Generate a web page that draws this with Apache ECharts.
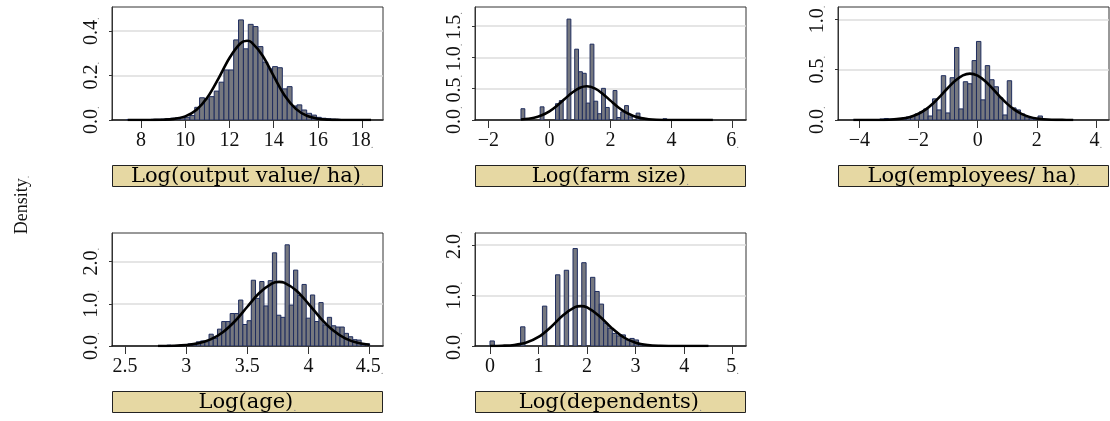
<!DOCTYPE html>
<html><head><meta charset="utf-8">
<script src="https://cdn.jsdelivr.net/npm/echarts@6/dist/echarts.min.js"></script>
<style>html,body{margin:0;padding:0;background:#fff}#c{width:1110px;height:421px}</style>
</head><body><div id="c"></div>
<script>
// ---------- data ----------
const titles = ['Log(output value/ ha)', 'Log(farm size)', 'Log(employees/ ha)', 'Log(age)', 'Log(dependents)'];
const yTitle = 'Density';
const xTicks1 = [8, 10, 12, 14, 16, 18];
const xTicks2 = [-2, 0, 2, 4, 6];
const xTicks3 = [-4, -2, 0, 2, 4];
const xTicks4 = [2.5, 3, 3.5, 4, 4.5];
const xTicks5 = [0, 1, 2, 3, 4, 5];
const yTicks1 = [0, 0.2, 0.4];
const yTicks2 = [0, 0.5, 1.0, 1.5];
const yTicks3 = [0, 0.5, 1.0];
const yTicks4 = [0, 1.0, 2.0];
const yTicks5 = [0, 1.0, 2.0];
// histogram bins: first bin start and bin width
const binStart = [7.35, -0.93, -4.2, 2.7726, 0];
const binWidth = [0.22, 0.1256, 0.1486, 0.03454, 0.09];
const heights1 = [0.002,0.002,0.002,0.002,0.002,0.003,0.003,0.004,0.006,0.008,
  0.01,0.012,0.012,0.02,0.057,0.10,0.095,0.105,0.13,0.17,
  0.225,0.225,0.36,0.45,0.32,0.43,0.42,0.33,0.26,0.23,
  0.24,0.235,0.14,0.15,0.063,0.068,0.045,0.03,0.022,0.012,
  0.008,0.006,0.004,0.003,0.002,0.002,0.002,0.001,0.001,0.002];
const heights2 = [0.18,0,0,0,0,0.21,0,0,0,0.26,
  0.31,0,1.61,0,1.13,0.77,0.745,0.27,1.21,0.30,
  0.10,0.505,0.20,0,0.47,0.04,0.13,0.23,0.05,0,
  0.11,0,0.005,0,0,0,0,0.02,0,0,
  0.005,0,0,0,0.005,0,0,0,0,0.005];
const heights3 = [0.003,0.003,0.003,0.005,0.005,0.005,0.01,0.015,0.01,0.01,
  0.01,0.02,0.03,0.04,0.06,0.08,0.11,0.04,0.21,0.10,
  0.44,0.07,0.42,0.72,0.11,0.38,0.36,0.59,0.78,0.20,
  0.54,0.40,0.33,0.22,0.05,0.39,0.12,0.10,0.06,0.03,
  0.02,0.01,0.04,0.005,0.003,0.003,0.002,0.002,0.002,0.002];
const heights4 = [0.01,0,0.02,0,0.01,0.02,0.03,0.05,0.05,0.10,
  0.12,0.10,0.28,0.18,0.40,0.58,0.58,0.77,0.77,1.09,
  0.51,0.60,1.56,1.13,1.53,0.95,1.55,2.21,0.73,0.68,
  2.40,0.97,1.80,1.20,1.46,0.66,1.21,0.58,1.03,0.50,
  0.68,0.48,0.45,0.45,0.30,0.22,0.15,0.14,0.06,0.05];
const heights5 = [0.10,0,0,0,0,0,0,0.38,0,0,
  0,0,0.79,0,0,1.41,0,1.50,0,1.93,
  0,1.65,0,1.36,1.08,0.83,0.45,0.35,0.25,0.20,
  0.22,0.12,0.15,0.12,0.03,0.02,0.01,0.01,0.005,0.005,
  0.003,0.003,0,0.003,0,0.003,0,0,0.003,0.003];
// normal density overlays
const curveX1 = [7.4,8,8.5,9,9.5,10,10.5,11,11.5,12,12.5,12.8,13,13.5,14,14.5,15,15.5,16,16.5,17,17.5,18,18.4];
const curveY1 = [0,0,0.0003,0.0012,0.0049,0.0164,0.045,0.101,0.186,0.279,0.345,0.356,0.349,0.289,0.197,0.109,0.050,0.019,0.0057,0.0014,0.0003,0,0,0];
const curveX2 = [-0.93,-0.5,-0.25,0,0.25,0.5,0.75,1,1.22,1.5,1.75,2,2.25,2.5,2.75,3,3.25,3.5,4,4.5,5,5.35];
const curveY2 = [0.008,0.036,0.075,0.138,0.228,0.335,0.440,0.515,0.538,0.501,0.416,0.309,0.204,0.121,0.064,0.030,0.0125,0.0047,0.0005,0,0,0];
const curveX3 = [-4.2,-3.5,-3,-2.5,-2.25,-2,-1.75,-1.5,-1.25,-1,-0.75,-0.5,-0.26,0,0.25,0.5,0.75,1,1.25,1.5,1.75,2,2.5,3,3.23];
const curveY3 = [0,0.0004,0.003,0.016,0.033,0.062,0.105,0.166,0.240,0.32,0.392,0.443,0.46,0.44,0.387,0.313,0.233,0.16,0.101,0.059,0.031,0.015,0.003,0.0004,0.0001];
const curveX4 = [2.77,2.9,3.0,3.1,3.2,3.3,3.4,3.5,3.6,3.7,3.76,3.8,3.9,4.0,4.1,4.2,4.3,4.4,4.5];
const curveY4 = [0.001,0.007,0.023,0.064,0.156,0.327,0.593,0.931,1.262,1.481,1.52,1.502,1.318,1.001,0.657,0.373,0.183,0.078,0.029];
const curveX5 = [0,0.25,0.5,0.75,1,1.25,1.5,1.75,1.87,2,2.25,2.5,2.75,3,3.25,3.5,3.75,4,4.5];
const curveY5 = [0.001,0.005,0.02,0.068,0.179,0.372,0.604,0.768,0.79,0.764,0.595,0.363,0.173,0.065,0.019,0.004,0.001,0,0];

// ---------- layout ----------
const xTicks = [xTicks1, xTicks2, xTicks3, xTicks4, xTicks5];
const yTicks = [yTicks1, yTicks2, yTicks3, yTicks4, yTicks5];
const heights = [heights1, heights2, heights3, heights4, heights5];
const curveX = [curveX1, curveX2, curveX3, curveX4, curveX5];
const curveY = [curveY1, curveY2, curveY3, curveY4, curveY5];
const layout = [
  {left: 112, top: 7, xMin: 6.69, xMax: 18.94, yMax: 0.508},
  {left: 475, top: 7, xMin: -2.435, xMax: 6.435, yMax: 1.803},
  {left: 838, top: 7, xMin: -4.72, xMax: 4.44, yMax: 1.122},
  {left: 112, top: 233, xMin: 2.394, xMax: 4.609, yMax: 2.68},
  {left: 475, top: 233, xMin: -0.309, xMax: 5.274, yMax: 2.238}
];
const W = 271, H = 113;
const TICKFONT = 'Liberation Serif';
const TITLEFONT = 'DejaVu Serif';

const rich = {
  n: {fontFamily: TICKFONT, fontSize: 20, color: '#111'},
  d: {fontFamily: TICKFONT, fontSize: 11, color: '#888', verticalAlign: 'bottom'}
};

function fmtNum(v) {
  const s = String(Math.abs(v));
  return (v < 0 ? '\u2212' : '') + s;
}

function renderBar(params, api) {
  const a = api.coord([api.value(0), 0]);
  const b = api.coord([api.value(1), api.value(2)]);
  return {
    type: 'rect',
    shape: {x: a[0], y: b[1], width: b[0] - a[0], height: a[1] - b[1]},
    style: {fill: '#76787f', stroke: '#1f2d5e', lineWidth: 1}
  };
}

const grid = [], xAxis = [], yAxis = [], series = [], graphic = [];
layout.forEach((L, k) => {
  grid.push({left: L.left, top: L.top, width: W, height: H, show: true,
    borderColor: '#333', borderWidth: 1, backgroundColor: '#fff', containLabel: false});
  const xt = xTicks[k];
  const lastX = xt[xt.length - 1];
  xAxis.push({
    type: 'value', gridIndex: k, min: L.xMin, max: L.xMax, position: 'bottom',
    axisLine: {show: true, onZero: false, lineStyle: {color: '#111', width: 1.5}},
    axisTick: {show: true, length: 8, customValues: xt, lineStyle: {color: '#333', width: 1}},
    axisLabel: {show: true, customValues: xt, margin: 11, fontFamily: TICKFONT, fontSize: 20, color: '#111',
      rich: rich,
      formatter: v => (Math.abs(v - lastX) < 1e-9) ? '{n|' + fmtNum(v) + '}{d|.}' : '{n|' + fmtNum(v) + '}'},
    splitLine: {show: false}
  });
  const yt = yTicks[k];
  yAxis.push({
    type: 'value', gridIndex: k, min: 0, max: L.yMax, interval: yt[1] - yt[0], position: 'left',
    axisLine: {show: true, onZero: false, lineStyle: {color: '#333', width: 1}},
    axisTick: {show: true, length: 3, customValues: yt, lineStyle: {color: '#333'}},
    axisLabel: {show: true, customValues: yt, rotate: 90, margin: 10, fontFamily: TICKFONT, fontSize: 20, color: '#111',
      rich: rich,
      formatter: v => '{n|' + v.toFixed(1) + '}{d|.}'},
    splitLine: {show: true, lineStyle: {color: '#dcdcdc', width: 1.5}}
  });
  const bars = heights[k].map((h, i) => [binStart[k] + i * binWidth[k], binStart[k] + (i + 1) * binWidth[k], h])
    .filter(d => d[2] > 0);
  series.push({type: 'custom', xAxisIndex: k, yAxisIndex: k, data: bars, renderItem: renderBar,
    encode: {x: [0, 1], y: 2}, clip: true, z: 2, silent: true});
  series.push({type: 'line', xAxisIndex: k, yAxisIndex: k,
    data: curveX[k].map((x, i) => [x, curveY[k][i]]),
    showSymbol: false, smooth: 0.35, lineStyle: {color: '#000', width: 2.6}, z: 3, silent: true});
  const boxTop = L.top + H + 45;
  graphic.push({type: 'rect', x: L.left + 0.5, y: boxTop + 0.5, shape: {x: 0, y: 0, width: W - 1, height: 21},
    style: {fill: '#e6d8a3', stroke: '#222', lineWidth: 1}, z: 10});
  graphic.push({type: 'text', x: L.left + W / 2, y: boxTop + 11.5, z: 11,
    style: {text: '{t|' + titles[k] + '}{d|.}', align: 'center', verticalAlign: 'middle',
      textAlign: 'center', textVerticalAlign: 'middle',
      rich: {t: {fontFamily: TITLEFONT, fontSize: 21, fill: '#000'}, d: {fontFamily: TITLEFONT, fontSize: 10, fill: '#888', verticalAlign: 'bottom'}}}});
});
graphic.push({type: 'text', x: 22, y: 205, rotation: Math.PI / 2, z: 11,
  style: {text: '{t|' + yTitle + '}{d|.}', align: 'center', verticalAlign: 'middle',
    textAlign: 'center', textVerticalAlign: 'middle',
    rich: {t: {fontFamily: TICKFONT, fontSize: 18, fill: '#111'}, d: {fontFamily: TICKFONT, fontSize: 10, fill: '#888', verticalAlign: 'bottom'}}}});

const chart = echarts.init(document.getElementById('c'), null, {renderer: 'canvas'});
chart.setOption({animation: false, backgroundColor: '#fff', grid, xAxis, yAxis, series, graphic});
</script></body></html>
